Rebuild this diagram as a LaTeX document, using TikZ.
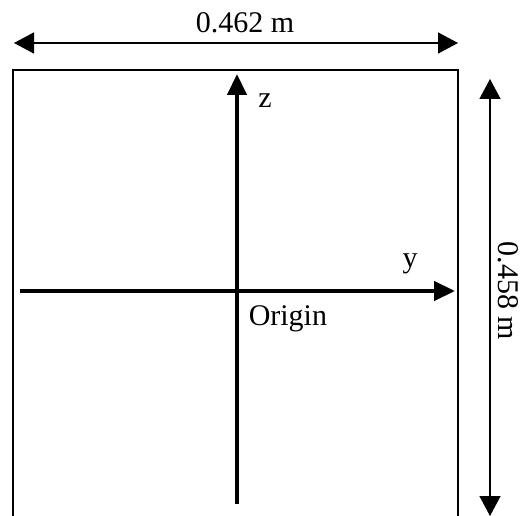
\documentclass[tikz,border=0pt]{standalone}
\usepackage{fontspec}
\setmainfont{Liberation Serif}
\usetikzlibrary{arrows.meta}
\begin{document}
\begin{tikzpicture}[x=1pt,y=-1pt,line width=1.5pt,
  dim/.style={{Triangle[length=20pt,width=21pt]}-{Triangle[length=20pt,width=21pt]}},
  axis/.style={line width=4.5pt,-{Triangle[length=21pt,width=19pt]}},
  lab/.style={font=\fontsize{30}{34}\selectfont,inner sep=0pt,anchor=base}]
\useasboundingbox (0,0) rectangle (528,516);
% plate
\draw (13,70) rectangle (458,540);
% dimensions
\coordinate (wl) at (14,43);
\coordinate (wr) at (458,43);
\draw[dim] (wl) -- (wr);
\node[lab] (wlab) at (245,33) {0.462 m};
\coordinate (ht) at (490,79);
\coordinate (hb) at (490,516);
\draw[dim] (ht) -- (hb);
\node[lab,rotate=-90] (hlab) at (498,291) {0.458 m};
% axes
\coordinate (zb) at (237,504);
\coordinate (zt) at (237,74);
\draw[axis] (zb) -- (zt);
\coordinate (yl) at (20,291);
\coordinate (yr) at (455,291);
\draw[axis] (yl) -- (yr);
\node[lab] (zlab) at (265,108) {z};
\node[lab] (ylab) at (410,268) {y};
\node[lab,anchor=base west] (olab) at (248,325) {Origin};
\end{tikzpicture}
\end{document}
